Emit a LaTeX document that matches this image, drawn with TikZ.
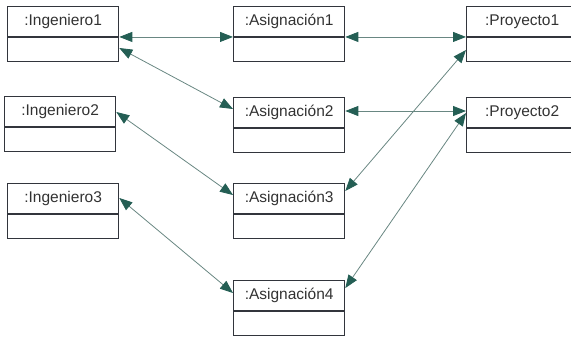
\documentclass[tikz,border=0pt]{standalone}
\usepackage{fontspec}
\setmainfont{Liberation Sans}
\usetikzlibrary{arrows.meta,shapes.multipart}
\definecolor{umlInk}{RGB}{50, 53, 60}
\definecolor{umlText}{RGB}{50, 50, 50}
\definecolor{umlTeal}{RGB}{36, 94, 84}
\definecolor{umlWire}{RGB}{105, 135, 130}
\begin{document}
\begin{tikzpicture}[x=1bp, y=-1bp,
    obj/.style={rectangle split, rectangle split parts=2, draw=umlInk, line width=1.3bp,
        anchor=north west, text width=105bp, inner xsep=3bp, inner ysep=5.2bp, align=center,
        text=umlText, font=\fontsize{15.5bp}{18.6bp}\selectfont},
    link/.style={draw=umlWire, line width=0.8bp,
        {Triangle[length=13bp, width=10bp, color=umlTeal]}-{Triangle[length=13bp, width=10bp, color=umlTeal]}}]
    \useasboundingbox (0,0) rectangle (571,336);
    \node[obj] (ing1) at (7,6) {\strut:Ingeniero1\nodepart{two}\rule{0pt}{12.6bp}};
    \node[obj] (ing2) at (4,96) {\strut:Ingeniero2\nodepart{two}\rule{0pt}{12.6bp}};
    \node[obj] (ing3) at (7,183) {\strut:Ingeniero3\nodepart{two}\rule{0pt}{12.6bp}};
    \node[obj] (asig1) at (233,6) {\strut:Asignación1\nodepart{two}\rule{0pt}{12.6bp}};
    \node[obj] (asig2) at (233,97) {\strut:Asignación2\nodepart{two}\rule{0pt}{12.6bp}};
    \node[obj] (asig3) at (233,183) {\strut:Asignación3\nodepart{two}\rule{0pt}{12.6bp}};
    \node[obj] (asig4) at (233,280) {\strut:Asignación4\nodepart{two}\rule{0pt}{12.6bp}};
    \node[obj] (proy1) at (466,6) {\strut:Proyecto1\nodepart{two}\rule{0pt}{12.6bp}};
    \node[obj] (proy2) at (466,97) {\strut:Proyecto2\nodepart{two}\rule{0pt}{12.6bp}};
    \draw[link] (ing1.text split east) -- (asig1.text split west);
    \draw[link] ([yshift=-42bp]ing1.north east) -- ([yshift=-12bp]asig2.north west);
    \draw[link] ([yshift=-16bp]ing2.north east) -- ([yshift=-12bp]asig3.north west);
    \draw[link] ([yshift=-15bp]ing3.north east) -- ([yshift=-13bp]asig4.north west);
    \draw[link] (asig1.text split east) -- (proy1.text split west);
    \draw[link] ([yshift=-14bp]asig2.north east) -- ([yshift=-14bp]proy2.north west);
    \draw[link] ([yshift=-8bp]asig3.north east) -- ([yshift=-44bp]proy1.north west);
    \draw[link] ([yshift=-8bp]asig4.north east) -- ([yshift=-16bp]proy2.north west);
\end{tikzpicture}
\end{document}
